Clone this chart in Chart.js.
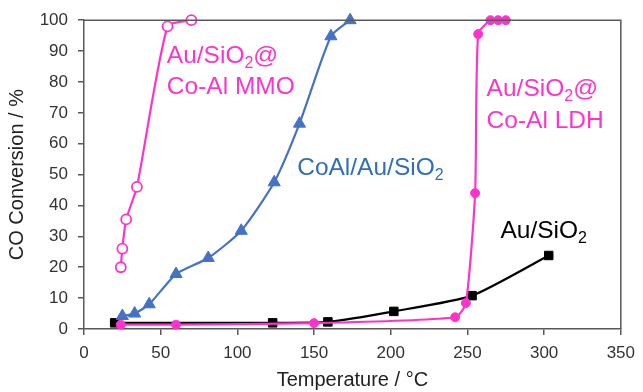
<!DOCTYPE html>
<html>
<head>
<meta charset="utf-8">
<script src="https://cdn.jsdelivr.net/npm/chart.js@4.4.1/dist/chart.umd.min.js"></script>
<style>
    html, body { margin: 0; padding: 0; background: #fff; }
    #wrap { width: 643px; height: 392px; }
</style>
</head>
<body>
<div id="wrap"><canvas id="conversionChart" width="643" height="392"></canvas></div>
<script>
// temperatures (°C) and CO conversion (%)
const auSiO2Temp = [20, 123, 159, 202, 253, 303];
const auSiO2Conv = [2, 2, 2.3, 5.7, 10.8, 23.8];

const ldhTemp = [24, 60, 150, 242, 249, 255, 257, 265, 270, 275];
const ldhConv = [1.4, 1.4, 1.9, 3.8, 8.4, 44, 95.5, 100, 100, 100];

const mmoTemp = [24, 25, 27.5, 34.5, 54.5, 70];
const mmoConv = [20, 26, 35.5, 46, 98, 100];

const coalTemp = [25, 33, 42.5, 60, 81, 102.5, 124, 140.5, 161, 173.5];
const coalConv = [4.2, 5, 8, 17.8, 23, 31.8, 47.5, 66.5, 94.8, 100];

const xTicks = [0, 50, 100, 150, 200, 250, 300, 350];
const yTicks = [0, 10, 20, 30, 40, 50, 60, 70, 80, 90, 100];

const MAGENTA = '#ff33cc';
const BLUE = '#4472c4';
const FONT = '"Liberation Sans", Arial, sans-serif';

// in-plot series labels, anchored in data units (x, baseline y)
const seriesLabels = [
    { x: 54, y: 86, color: MAGENTA, parts: [['Au/SiO'], ['2', true], ['@']] },
    { x: 54, y: 76, color: MAGENTA, parts: [['Co-Al MMO']] },
    { x: 262.5, y: 75.3, color: MAGENTA, parts: [['Au/SiO'], ['2', true], ['@']] },
    { x: 262.5, y: 65, color: MAGENTA, parts: [['Co-Al LDH']] },
    { x: 139, y: 49.9, color: '#2f6eba', parts: [['CoAl/Au/SiO'], ['2', true]] },
    { x: 271.5, y: 29.5, color: '#000', parts: [['Au/SiO'], ['2', true]] }
];

function toPoints(xs, ys) {
    return xs.map((x, i) => ({ x: x, y: ys[i] }));
}

const labelPlugin = {
    id: 'seriesLabels',
    afterDatasetsDraw(chart) {
        const ctx = chart.ctx;
        const xs = chart.scales.x;
        const ys = chart.scales.y;
        ctx.save();
        ctx.textBaseline = 'alphabetic';
        ctx.textAlign = 'left';
        seriesLabels.forEach(lbl => {
            let px = xs.getPixelForValue(lbl.x);
            const py = ys.getPixelForValue(lbl.y);
            ctx.fillStyle = lbl.color;
            lbl.parts.forEach(([txt, sub]) => {
                ctx.font = (sub ? '16px ' : '24.5px ') + FONT;
                ctx.fillText(txt, px, sub ? py + 5 : py);
                px += ctx.measureText(txt).width;
            });
        });
        // plot box: top and right edges
        const a = chart.chartArea;
        ctx.strokeStyle = '#595959';
        ctx.lineWidth = 1.5;
        ctx.beginPath();
        ctx.moveTo(a.left, a.top);
        ctx.lineTo(a.right, a.top);
        ctx.lineTo(a.right, a.bottom);
        ctx.stroke();
        ctx.restore();
    }
};

const common = { showLine: true, tension: 0.2, borderWidth: 2.2, clip: false };

new Chart(document.getElementById('conversionChart').getContext('2d'), {
    type: 'scatter',
    data: {
        datasets: [
            Object.assign({
                label: 'Au/SiO2',
                data: toPoints(auSiO2Temp, auSiO2Conv),
                borderColor: '#000',
                backgroundColor: '#000',
                pointStyle: 'rect',
                pointRadius: 6,
                pointBorderWidth: 1,
                order: 3
            }, common),
            Object.assign({
                label: 'Au/SiO2@Co-Al LDH',
                data: toPoints(ldhTemp, ldhConv),
                borderColor: MAGENTA,
                backgroundColor: MAGENTA,
                pointStyle: 'circle',
                pointRadius: 4.5,
                pointBorderWidth: 1,
                order: 2
            }, common),
            Object.assign({
                label: 'Au/SiO2@Co-Al MMO',
                data: toPoints(mmoTemp, mmoConv),
                borderColor: MAGENTA,
                backgroundColor: '#fff',
                pointStyle: 'circle',
                pointRadius: 5,
                pointBorderWidth: 1.8,
                order: 1
            }, common),
            Object.assign({
                label: 'CoAl/Au/SiO2',
                data: toPoints(coalTemp, coalConv),
                borderColor: BLUE,
                backgroundColor: BLUE,
                pointStyle: 'triangle',
                pointRadius: 7,
                pointBorderWidth: 1,
                order: 1
            }, common)
        ]
    },
    options: {
        responsive: false,
        animation: false,
        layout: { padding: { left: 0, right: 17, top: 20, bottom: 0 } },
        plugins: {
            legend: { display: false },
            tooltip: { enabled: false }
        },
        scales: {
            x: {
                type: 'linear',
                min: 0,
                max: 350,
                afterBuildTicks: s => { s.ticks = xTicks.map(v => ({ value: v })); },
                afterFit: s => { s.height = 63; },
                border: { color: '#595959', width: 1.5 },
                grid: { drawOnChartArea: false, drawTicks: true, tickLength: 6, color: '#595959', lineWidth: 1.5 },
                ticks: { color: '#333', font: { family: FONT, size: 17 }, padding: 8, maxRotation: 0 },
                title: {
                    display: true,
                    text: 'Temperature / °C',
                    color: '#222',
                    font: { family: FONT, size: 20 },
                    padding: { top: 1, bottom: 0 }
                }
            },
            y: {
                min: 0,
                max: 100,
                afterBuildTicks: s => { s.ticks = yTicks.map(v => ({ value: v })); },
                afterFit: s => { s.width = 84; },
                border: { color: '#595959', width: 1.5 },
                grid: { drawOnChartArea: false, drawTicks: true, tickLength: 6, color: '#595959', lineWidth: 1.5 },
                ticks: { color: '#333', font: { family: FONT, size: 17 }, padding: 10 },
                title: {
                    display: true,
                    text: 'CO Conversion / %',
                    color: '#222',
                    font: { family: FONT, size: 20 },
                    padding: { top: 5, bottom: 0 }
                }
            }
        }
    },
    plugins: [labelPlugin]
});
</script>
</body>
</html>
